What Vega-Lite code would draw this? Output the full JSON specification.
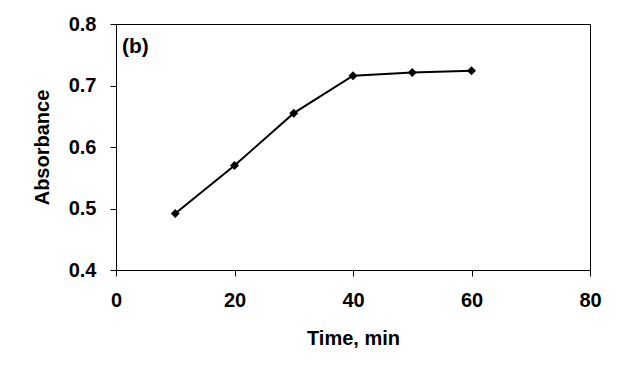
{
  "$schema": "https://vega.github.io/schema/vega-lite/v6.json",
  "autosize": "none",
  "padding": {"left": 116, "top": 24, "right": 37, "bottom": 111},
  "width": 474,
  "height": 246,
  "background": "white",
  "config": {
    "view": {"stroke": "black", "strokeWidth": 1},
    "font": "Liberation Sans",
    "axis": {
      "grid": false,
      "domainColor": "black",
      "tickColor": "black",
      "tickSize": 6,
      "labelFlush": false,
      "labelOverlap": false,
      "labelFont": "Liberation Sans",
      "labelFontWeight": "bold",
      "labelFontSize": 20,
      "labelColor": "black",
      "titleFont": "Liberation Sans",
      "titleFontWeight": "bold",
      "titleFontSize": 20,
      "titleColor": "black"
    }
  },
  "datasets": {
    "main": [
      {"time": 10, "absorbance": 0.492},
      {"time": 20, "absorbance": 0.570},
      {"time": 30, "absorbance": 0.655},
      {"time": 40, "absorbance": 0.716},
      {"time": 50, "absorbance": 0.721},
      {"time": 60, "absorbance": 0.724}
    ],
    "label": [{"time": 1, "absorbance": 0.763, "text": "(b)"}]
  },
  "layer": [
    {
      "data": {"name": "main"},
      "mark": {"type": "line", "color": "black", "strokeWidth": 2},
      "encoding": {
        "x": {"field": "time", "type": "quantitative", "scale": {"domain": [0, 80], "nice": false}, "axis": {"values": [0, 20, 40, 60, 80], "title": "Time, min", "labelPadding": 14, "titlePadding": 18}},
        "y": {"field": "absorbance", "type": "quantitative", "scale": {"domain": [0.4, 0.8], "zero": false, "nice": false}, "axis": {"values": [0.4, 0.5, 0.6, 0.7, 0.8], "format": ".1f", "title": "Absorbance", "labelPadding": 14, "titlePadding": 16}}
      }
    },
    {
      "data": {"name": "main"},
      "mark": {"type": "point", "shape": "diamond", "filled": true, "color": "black", "size": 80, "opacity": 1},
      "encoding": {
        "x": {"field": "time", "type": "quantitative"},
        "y": {"field": "absorbance", "type": "quantitative"}
      }
    },
    {
      "data": {"name": "label"},
      "mark": {"type": "text", "align": "left", "baseline": "middle", "font": "Liberation Sans", "fontWeight": "bold", "fontSize": 21, "color": "black"},
      "encoding": {
        "x": {"field": "time", "type": "quantitative"},
        "y": {"field": "absorbance", "type": "quantitative"},
        "text": {"field": "text"}
      }
    }
  ]
}
